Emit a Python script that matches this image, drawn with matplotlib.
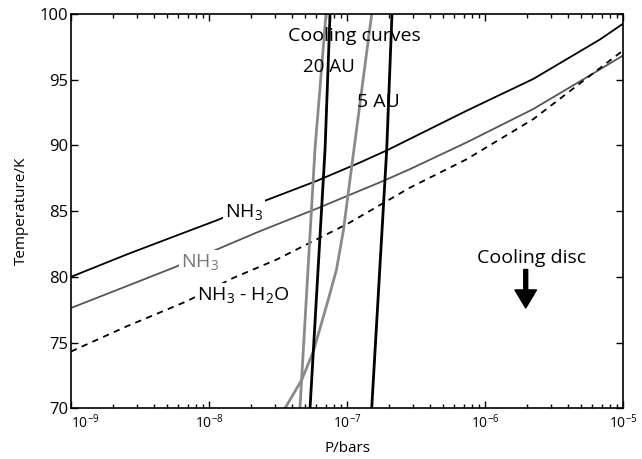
import numpy as np
import matplotlib.pyplot as plt

plt.rcParams['font.family'] = ['Open Sans', 'DejaVu Sans']
plt.rcParams['mathtext.default'] = 'regular'

# saturation curves: log10(P/bars) vs T/K
nh3_logp = [-9, -8.597, -8.234, -7.944, -7.630, -7.220, -6.906, -6.712, -6.133, -5.650, -5.167, -5.0]
nh3_t = [80.0, 81.70, 83.15, 84.30, 85.65, 87.30, 88.70, 89.62, 92.64, 95.06, 98.06, 99.26]

nh3g_logp = [-9, -8.597, -8.259, -7.944, -7.630, -7.220, -6.737, -6.543, -6.133, -5.650, -5.225, -5.0]
nh3g_t = [77.63, 79.29, 80.69, 82.08, 83.48, 85.19, 87.30, 88.20, 90.23, 92.77, 95.42, 96.84]

mix_logp = [-9, -8.597, -8.162, -7.824, -7.509, -7.196, -7.002, -6.543, -6.133, -5.650, -5.225, -5.0]
mix_t = [74.32, 76.23, 78.14, 79.92, 81.32, 82.98, 84.0, 86.79, 88.95, 92.0, 95.42, 97.22]

# cooling curves
c5g_logp = [-7.449, -7.328, -7.244, -7.136, -7.076, -7.025, -6.997, -6.821]
c5g_t = [70, 72.16, 74.32, 78.26, 80.56, 83.61, 85.90, 100]
c20g_logp = [-7.341, -7.232, -7.152]
c20g_t = [70, 89.72, 100]
c20k_logp = [-7.268, -7.159, -7.123]
c20k_t = [70, 89.72, 100]
c5k_logp = [-6.821, -6.712, -6.674]
c5k_t = [70, 89.72, 100]

xticks = [1e-9, 1e-8, 1e-7, 1e-6, 1e-5]
xticklabels = ['10$^{-9}$', '10$^{-8}$', '10$^{-7}$', '10$^{-6}$', '10$^{-5}$']
yticks = [70, 75, 80, 85, 90, 95, 100]

fig = plt.figure(figsize=(6.42, 4.59), dpi=100)
ax = fig.add_axes([0.1106, 0.1105, 0.8598, 0.859])

p = lambda a: 10 ** np.array(a)

ax.plot(p(nh3_logp), nh3_t, color='black', lw=1.3)
ax.plot(p(nh3g_logp), nh3g_t, color='#555555', lw=1.3)
ax.plot(p(mix_logp), mix_t, color='black', lw=1.3, linestyle=(0, (3.5, 3)))

ax.plot(p(c5g_logp), c5g_t, color='#8a8a8a', lw=2)
ax.plot(p(c20g_logp), c20g_t, color='#8a8a8a', lw=2)
ax.plot(p(c20k_logp), c20k_t, color='black', lw=2)
ax.plot(p(c5k_logp), c5k_t, color='black', lw=2)

ax.set_xscale('log')
ax.set_xlim(1e-9, 1e-5)
ax.set_ylim(70, 100)
ax.set_xticks(xticks)
ax.set_xticklabels(xticklabels, fontsize=10)
ax.get_xticklabels()[0].set_ha('left')
ax.set_yticks(yticks)
ax.tick_params(axis='y', labelsize=12, pad=2)
ax.tick_params(axis='x', pad=4)
ax.tick_params(which='both', direction='in', top=True, right=True)
ax.tick_params(which='major', length=5, width=1)
ax.tick_params(which='minor', length=3, width=1)
for s in ax.spines.values():
    s.set_linewidth(1.2)

ax.set_xlabel('P/bars', fontsize=11, labelpad=6)
ax.set_ylabel('Temperature/K', fontsize=11, labelpad=8)

wb = dict(facecolor='white', edgecolor='none', pad=1.5)
kw = dict(fontsize=14, ha='left', va='baseline')
ax.text(p(-7.428), 97.96, 'Cooling curves', **kw)
ax.text(p(-7.319), 95.6, '20 AU', fontsize=13.5, ha='left', va='baseline')
ax.text(p(-6.928), 92.92, '5 AU', **kw)
ax.text(p(-7.884), 84.53, 'NH$_3$', bbox=wb, **kw)
ax.text(p(-8.203), 80.76, 'NH$_3$', color='#777777', bbox=wb, **kw)
ax.text(p(-8.087), 78.21, 'NH$_3$ - H$_2$O', bbox=wb, **kw)
ax.text(p(-6.058), 81.07, 'Cooling disc', **kw)
ax.annotate('', xy=(p(-5.705), 77.63), xytext=(p(-5.705), 80.56),
            arrowprops=dict(facecolor='black', edgecolor='black', width=2.8,
                            headwidth=15.5, headlength=13, shrink=0))

fig.savefig('out.png', dpi=100)
